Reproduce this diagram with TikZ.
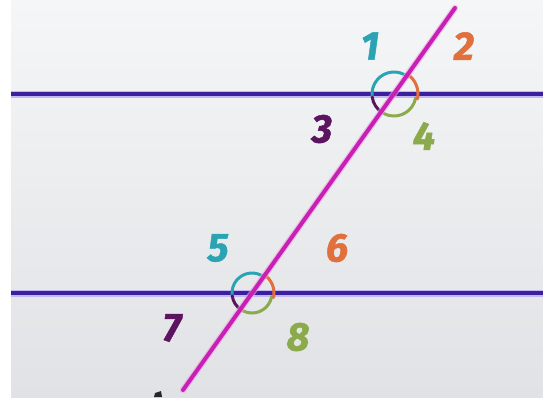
\documentclass[tikz,border=0pt]{standalone}
\usepackage{fontspec}
\setmainfont{Fira Sans}
\newfontfamily\lblfont[FakeBold=1.2]{Fira Sans}
\definecolor{bgtop}{HTML}{F5F6F7}
\definecolor{bgbot}{HTML}{E0E2E5}
\definecolor{hline}{HTML}{3B1F9E}
\definecolor{hhalo}{HTML}{C4B6F2}
\definecolor{trans}{HTML}{C81FB4}
\definecolor{thalo}{HTML}{E9A6E0}
\definecolor{cteal}{HTML}{2AA3B3}
\definecolor{corange}{HTML}{E0703C}
\definecolor{cpurple}{HTML}{5C1461}
\definecolor{cgreen}{HTML}{8AAA4C}
\tikzset{
  parline/.style={draw=hline, line width=3.6pt},
  parhalo/.style={draw=hhalo, line width=7pt},
  transline/.style={draw=trans, line width=4pt, line cap=round},
  transhalo/.style={draw=thalo, line width=6.5pt, line cap=round, opacity=0.6},
  arcline/.style={line width=3pt, line cap=round},
  lbl/.style={font=\lblfont\fontsize{40}{42}\selectfont\bfseries\itshape, inner sep=0pt}
}
\begin{document}
\begin{tikzpicture}[x=1pt,y=-1pt]
\useasboundingbox (0,0) rectangle (543,397);
\fill[white] (0,0) rectangle (543,397);
\shade[top color=bgtop, bottom color=bgbot] (11,0) rectangle (543,397);
% parallel lines
\coordinate (l1a) at (11,94);
\coordinate (l1b) at (543,94);
\coordinate (l2a) at (11,293);
\coordinate (l2b) at (543,293);
\draw[parhalo] (l1a) -- (l1b);
\draw[parhalo] (l2a) -- (l2b);
\draw[parline] (l1a) -- (l1b);
\draw[parline] (l2a) -- (l2b);
% intersections
\coordinate (P) at (394,94);
\coordinate (Q) at (252,293);
% angle arcs, top (angles negated because y axis points down)
\draw[arcline, cteal] ([shift={(-50:22)}]P) arc[start angle=-50, end angle=-188, radius=22];
\draw[arcline, cpurple] ([shift={(-188:22)}]P) arc[start angle=-188, end angle=-238, radius=22];
\draw[arcline, cgreen] ([shift={(-234:22)}]P) arc[start angle=-234, end angle=-350, radius=22];
\draw[arcline, corange] ([shift={(12:24)}]P) arc[start angle=12, end angle=-58, radius=24];
% angle arcs, bottom
\draw[arcline, cteal] ([shift={(-50:20)}]Q) arc[start angle=-50, end angle=-188, radius=20];
\draw[arcline, cpurple] ([shift={(-188:20)}]Q) arc[start angle=-188, end angle=-238, radius=20];
\draw[arcline, cgreen] ([shift={(-234:20)}]Q) arc[start angle=-234, end angle=-350, radius=20];
\draw[arcline, corange] ([shift={(12:22)}]Q) arc[start angle=12, end angle=-58, radius=22];
% transversal
\coordinate (ta) at (455,8);
\coordinate (tb) at (183,390);
\draw[transhalo] (ta) -- (tb);
\draw[transline] (ta) -- (tb);
% labels
\node[lbl, text=cteal] (n1) at (370,46) {1};
\node[lbl, text=corange] (n2) at (464,46) {2};
\node[lbl, text=cpurple] (n3) at (322,129) {3};
\node[lbl, text=cgreen] (n4) at (424,136) {4};
\node[lbl, text=cteal] (n5) at (218,248) {5};
\node[lbl, text=corange] (n6) at (337,248) {6};
\node[lbl, text=cpurple] (n7) at (172,328) {7};
\node[lbl, text=cgreen] (n8) at (298,337) {8};
% partial mark at bottom edge
\fill[black!85] (155,393) -- (161,391) -- (162,397) -- (154,397) -- cycle;
\end{tikzpicture}
\end{document}
